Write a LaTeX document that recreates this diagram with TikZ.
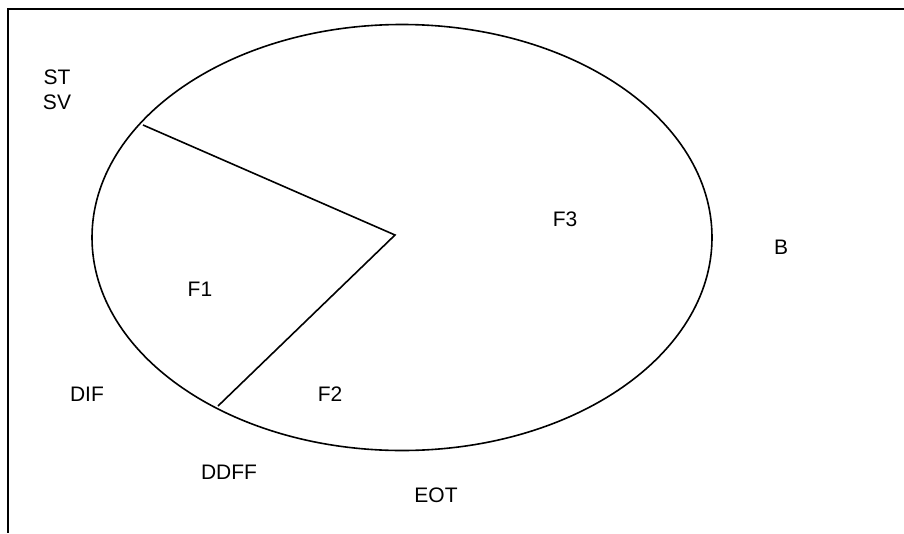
\documentclass[tikz,border=0pt]{standalone}
\usepackage{fontspec}
\setmainfont{Liberation Sans}
\begin{document}
\begin{tikzpicture}[
        x=1pt,y=-1pt,
        lbl/.style={inner sep=0pt,font=\fontsize{21}{24}\selectfont},
        frame/.style={draw,line width=2pt},
        cut/.style={draw,line width=1.6pt},
        ]
    \useasboundingbox (0,0) rectangle (904,533);
    % frame on top and left only
    \draw[frame] (904,9) -- (8,9) -- (8,533);
    % the ellipse
    \draw[cut] (402,237.5) ellipse [x radius=310, y radius=213];
    \coordinate (o) at (395,235);
    \coordinate (a) at (143,125);
    \coordinate (b) at (218,406);
    \draw[cut] (a) -- (o) -- (b);
    \node[lbl] (st) at (57,77) {ST};
    \node[lbl] (sv) at (57,102) {SV};
    \node[lbl] (f3) at (565,219) {F3};
    \node[lbl] (bb) at (781,247) {B};
    \node[lbl] (f1) at (200,289) {F1};
    \node[lbl] (dif) at (87,394) {DIF};
    \node[lbl] (f2) at (330,394) {F2};
    \node[lbl] (ddff) at (229,472) {DDFF};
    \node[lbl] (eot) at (436,495) {EOT};
  ; % end of the labels
\end{tikzpicture}
\end{document}
